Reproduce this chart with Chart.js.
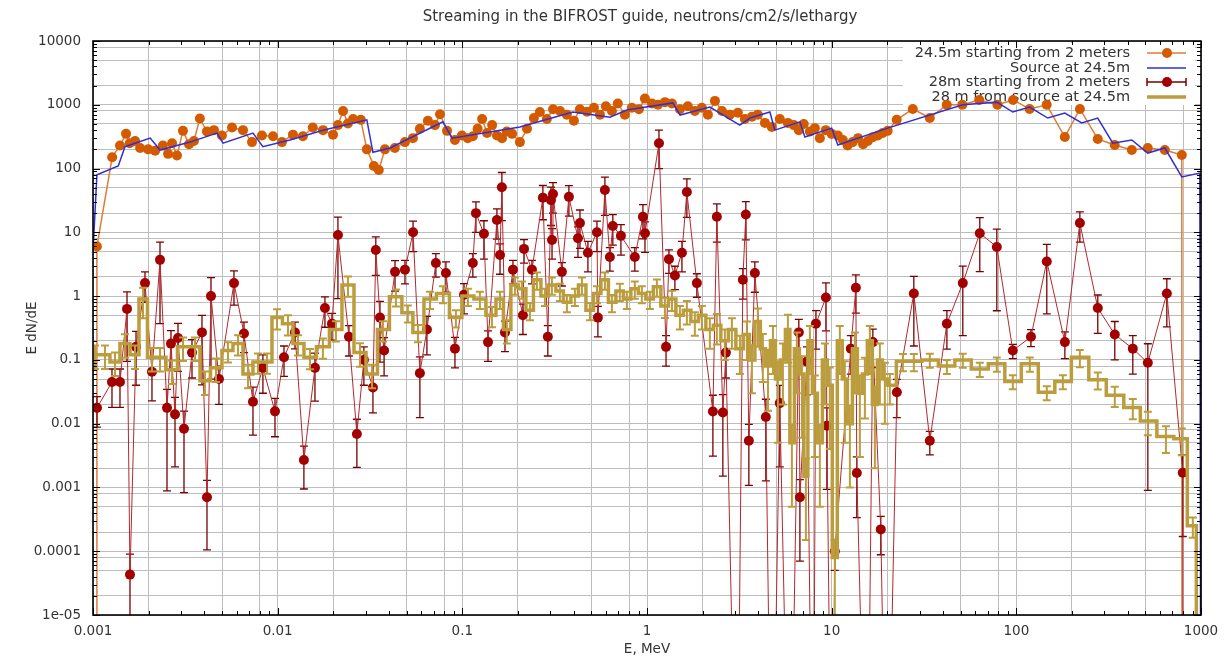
<!DOCTYPE html>
<html><head><meta charset="utf-8">
<script src="https://cdn.jsdelivr.net/npm/chart.js@4.4.0/dist/chart.umd.min.js"></script>
<style>html,body{margin:0;padding:0;background:#fff}#wrap{width:1226px;height:659px}</style>
</head><body><div id="wrap"><canvas id="c" width="1226" height="659"></canvas></div>
<script>
const titleText = 'Streaming in the BIFROST guide, neutrons/cm2/s/lethargy';
const xAxisTitle = 'E, MeV';
const yAxisTitle = 'E dN/dE';
const seriesNames = ['24.5m starting from 2 meters', 'Source at 24.5m', '28m starting from 2 meters', '28 m from source at 24.5m'];
const xTickValues = [0.001, 0.01, 0.1, 1, 10, 100, 1000];
const xTickLabels = ['0.001', '0.01', '0.1', '1', '10', '100', '1000'];
const yTickValues = [1e-5, 1e-4, 1e-3, 1e-2, 0.1, 1, 10, 100, 1000, 10000];
const yTickLabels = ['1e-05', '0.0001', '0.001', '0.01', '0.1', '1', '10', '100', '1000', '10000'];
const gridMantissas = [1, 2, 5, 8];

// Series 1: 24.5m starting from 2 meters
const orangeE = [0.00105, 0.00105, 0.00127, 0.0014, 0.00151, 0.00158, 0.00169, 0.0018, 0.00199, 0.00217,
  0.00239, 0.00255, 0.00268, 0.00285, 0.00307, 0.00331, 0.00352, 0.00379, 0.00414, 0.00452,
  0.00499, 0.00566, 0.00649, 0.00726, 0.00822, 0.00944, 0.01055, 0.0121, 0.0137, 0.0155,
  0.0176, 0.01995, 0.0212, 0.0226, 0.024, 0.0256, 0.0282, 0.0304, 0.0332, 0.0353,
  0.0381, 0.0431, 0.0489, 0.054, 0.0589, 0.0651, 0.0711, 0.0757, 0.0826, 0.0912,
  0.0995, 0.107, 0.114, 0.121, 0.128, 0.136, 0.145, 0.154, 0.164, 0.174,
  0.186, 0.205, 0.224, 0.244, 0.263, 0.287, 0.31, 0.338, 0.368, 0.402,
  0.433, 0.473, 0.516, 0.556, 0.599, 0.646, 0.695, 0.759, 0.828, 0.904,
  0.974, 1.064, 1.146, 1.25, 1.365, 1.507, 1.664, 1.816, 1.982, 2.137,
  2.333, 2.546, 2.812, 3.105, 3.39, 3.7, 3.98, 4.35, 4.74, 5.24,
  5.79, 6.24, 6.64, 7.06, 7.62, 8.11, 8.63, 9.29, 10.0, 10.8,
  11.5, 12.2, 13.0, 13.9, 14.8, 15.7, 16.7, 17.8, 18.9, 20.1,
  22.5, 27.5, 34, 42, 51, 63, 79, 96, 118, 146,
  183, 221, 276, 341, 422, 515, 637, 787, 790];
const orangeFlux = [1e-9, 6, 150, 230, 350, 250, 270, 210, 200, 190,
  230, 170, 250, 160, 390, 240, 270, 610, 380, 400,
  330, 440, 400, 260, 330, 320, 260, 340, 320, 440,
  400, 340, 480, 800, 510, 600, 580, 200, 110, 95,
  200, 210, 260, 300, 420, 560, 480, 710, 390, 280,
  330, 300, 320, 420, 600, 360, 480, 330, 300, 380,
  350, 260, 420, 620, 770, 600, 850, 800, 700, 560,
  850, 780, 900, 700, 950, 800, 1050, 700, 900, 850,
  1250, 1050, 1000, 1100, 1050, 850, 950, 800, 900, 700,
  1150, 800, 700, 750, 600, 650, 700, 520, 450, 600,
  520, 480, 400, 500, 380, 430, 300, 400, 350, 330,
  280, 230, 260, 300, 240, 270, 310, 330, 360, 390,
  580, 860, 620, 1000, 1000, 1190, 1000, 1190, 860, 1000,
  312, 860, 291, 234, 195, 210, 195, 163, 1e-9];

// Series 2: Source at 24.5m
const blueE = [0.001, 0.00105, 0.00137, 0.00149, 0.00204, 0.00231, 0.00335, 0.00469, 0.00506, 0.00735,
  0.00832, 0.01166, 0.0176, 0.0304, 0.0328, 0.0406, 0.0785, 0.0879, 0.205, 0.397,
  0.63, 0.778, 1.38, 1.51, 2.19, 3.18, 3.61, 4.63, 4.92, 6.73,
  7.16, 10.0, 10.8, 20.1, 51.3, 78.4, 95.7, 118, 148, 183,
  226, 276, 333, 422, 515, 637, 787, 985, 1000];
const blueFlux = [5, 80, 110, 220, 300, 195, 260, 360, 250, 360,
  220, 280, 400, 580, 180, 210, 540, 300, 450, 770,
  640, 830, 1070, 690, 920, 480, 620, 770, 400, 540,
  312, 430, 234, 430, 1000, 1100, 770, 920, 620, 740,
  520, 620, 250, 280, 175, 210, 74, 85, 1e-9];

// Series 3: 28m starting from 2 meters (with relative errors)
const redE = [0.001051, 0.001267, 0.0014, 0.001528, 0.001586, 0.00171, 0.001912, 0.002086, 0.002306, 0.002516,
  0.002644, 0.00278, 0.002886, 0.00311, 0.003436, 0.003892, 0.004142, 0.004354, 0.00481, 0.0058,
  0.00657, 0.00735, 0.00832, 0.00967, 0.01082, 0.0124, 0.01387, 0.01592, 0.01803, 0.01968,
  0.0212, 0.02432, 0.02685, 0.0293, 0.0328, 0.034, 0.0358, 0.0377, 0.0432, 0.0489,
  0.0541, 0.0589, 0.0643, 0.0719, 0.0815, 0.0912, 0.1021, 0.114, 0.1185, 0.1309,
  0.1377, 0.1539, 0.16, 0.1637, 0.1702, 0.188, 0.2128, 0.2158, 0.2382, 0.273,
  0.2904, 0.302, 0.306, 0.3097, 0.346, 0.3776, 0.4227, 0.4335, 0.4786, 0.5358,
  0.542, 0.5916, 0.6295, 0.6531, 0.7224, 0.859, 0.9506, 0.975, 1.161, 1.268,
  1.315, 1.416, 1.546, 1.644, 1.862, 2.274, 2.389, 2.575, 2.674, 3.069,
  3.304, 3.429, 3.561, 3.837, 4.401, 4.745, 5.236, 5.938, 6.64, 6.73,
  7.34, 7.925, 8.22, 9.31, 9.42, 10.02, 10.4, 12.7, 13.52, 13.68,
  15.52, 16.71, 18.45, 19.9, 22.54, 27.86, 34.0, 42.07, 51.3, 63.4,
  78.4, 95.7, 120, 146.2, 183.2, 220.8, 276.1, 341.3, 427.3, 515.3,
  653.1, 796.4, 800];
const redFlux = [0.0177, 0.045, 0.045, 0.63, 4.3e-5, 0.16, 1.6, 0.065, 3.7, 0.0177,
  0.18, 0.014, 0.22, 0.0083, 0.13, 0.27, 0.0007, 1.0, 0.05, 1.6,
  0.26, 0.022, 0.075, 0.0156, 0.11, 0.27, 0.0027, 0.075, 0.65, 0.37,
  9.1, 0.23, 0.0069, 0.10, 0.037, 5.3, 0.46, 0.14, 2.4, 2.6,
  10, 0.062, 0.3, 3.3, 2.3, 0.15, 1.05, 3.3, 20, 9.5,
  0.19, 15.6, 4.4, 51, 0.27, 2.6, 0.5, 5.5, 2.6, 35,
  0.23, 32, 7.6, 40, 2.4, 36, 8.1, 14, 4.8, 10,
  0.46, 46, 4.1, 12.6, 8.8, 4.1, 17.5, 9.7, 250, 0.16,
  3.8, 2.1, 4.8, 43, 1.6, 0.0155, 17.5, 0.015, 0.13, 1e-9,
  1.8, 19, 0.0054, 2.3, 0.0127, 1e-9, 0.021, 1e-9, 0.27, 0.0007,
  0.094, 1e-9, 0.37, 0.95, 0.0093, 1e-9, 0.0001, 0.15, 1.35, 0.00168,
  1e-9, 0.19, 0.00022, 1e-9, 0.031, 1.1, 0.0054, 0.37, 1.6, 9.7,
  5.9, 0.14, 0.23, 3.5, 0.19, 14, 0.65, 0.25, 0.15, 0.09,
  1.1, 0.0017, 1e-9];
const redRelErr = [0.5, 0.6, 0.6, 0.85, 1.1, 0.75, 0.5, 0.65, 0.9, 0.95,
  0.6, 0.85, 0.7, 0.9, 0.6, 0.85, 0.85, 0.95, 0.6, 0.55,
  0.5, 0.7, 0.6, 0.6, 0.5, 0.45, 0.65, 0.7, 0.5, 0.45,
  0.9, 0.5, 0.7, 0.6, 0.6, 0.6, 0.8, 0.6, 0.5, 0.4,
  0.5, 0.8, 0.6, 0.4, 0.5, 0.5, 0.5, 0.4, 0.5, 0.6,
  0.5, 0.5, 0.5, 0.7, 0.5, 0.4, 0.5, 0.4, 0.4, 0.55,
  0.5, 0.6, 0.5, 0.5, 0.4, 0.5, 0.5, 0.6, 0.5, 0.5,
  0.5, 0.6, 0.4, 0.5, 0.5, 0.4, 0.55, 0.5, 0.6, 0.5,
  0.4, 0.4, 0.5, 0.6, 0.4, 0.8, 0.6, 0.9, 0.6, 0,
  0.5, 0.6, 0.8, 0.5, 0.9, 0, 0.9, 0, 0.6, 0.9,
  0.7, 0, 0.6, 0.7, 0.9, 0, 0.5, 0.6, 0.6, 0.8,
  0, 0.6, 0.6, 0, 0.6, 0.85, 0.4, 0.6, 0.85, 0.75,
  0.9, 0.25, 0.3, 0.85, 0.45, 0.5, 0.6, 0.6, 0.6, 0.99,
  0.7, 0.9, 0];

// Series 4: 28 m from source at 24.5m (histogram with relative errors)
const oliveE = [0.001025, 0.001161, 0.001315, 0.00149, 0.001688, 0.001865, 0.002086, 0.002306, 0.002677, 0.003072,
  0.003567, 0.00404, 0.004634, 0.00538, 0.006097, 0.006906, 0.007822, 0.008753, 0.009913, 0.01137,
  0.01288, 0.01496, 0.01758, 0.02068, 0.02403, 0.02791, 0.03243, 0.03717, 0.04369, 0.0507,
  0.05751, 0.06679, 0.07852, 0.09232, 0.1072, 0.1245, 0.1446, 0.16, 0.1742, 0.1927,
  0.2103, 0.2323, 0.2535, 0.28, 0.3055, 0.3375, 0.3683, 0.4069, 0.4443, 0.4909,
  0.5358, 0.5916, 0.6457, 0.7129, 0.778, 0.859, 0.9376, 1.036, 1.131, 1.25,
  1.365, 1.507, 1.644, 1.816, 1.982, 2.19, 2.389, 2.64, 2.882, 3.184,
  3.475, 3.7, 3.984, 4.24, 4.52, 4.81, 5.117, 5.445, 5.794, 6.09,
  6.48, 6.9, 7.25, 7.62, 8.11, 8.63, 9.19, 9.77, 10.4, 11.07,
  11.78, 12.55, 13.36, 14.21, 15.13, 16.1, 17.14, 18.24, 19.41, 20.65,
  24.3, 27.86, 34.0, 42.07, 51.3, 63.4, 78.4, 95.7, 118.3, 146.2,
  178.6, 220.8, 276.1, 341.3, 427.3, 515.3, 645.6, 787, 903, 986];
const oliveFlux = [0.12, 0.12, 0.093, 0.18, 0.12, 0.9, 0.11, 0.11, 0.07, 0.16,
  0.16, 0.047, 0.075, 0.14, 0.18, 0.06, 0.093, 0.093, 0.46, 0.37,
  0.18, 0.11, 0.16, 0.3, 1.5, 0.13, 0.06, 0.3, 0.98, 0.55,
  0.27, 0.9, 1.1, 0.46, 1.0, 0.9, 0.5, 0.9, 0.3, 1.5,
  1.3, 0.6, 1.8, 1.0, 1.5, 1.2, 0.8, 1.0, 1.5, 0.6,
  1.1, 1.8, 0.8, 1.2, 0.9, 1.3, 1.1, 0.9, 1.4, 0.7,
  0.9, 0.5, 0.6, 0.4, 0.5, 0.3, 0.35, 0.2, 0.3, 0.15,
  0.25, 0.1, 0.4, 0.15, 0.08, 0.2, 0.05, 0.1, 0.3, 0.005,
  0.15, 0.06, 0.0015, 0.2, 0.03, 0.005, 0.1, 0.04, 0.00008, 0.2,
  0.05, 0.01, 0.15, 0.03, 0.06, 0.2, 0.02, 0.1, 0.05, 0.04,
  0.095, 0.095, 0.1, 0.08, 0.1, 0.072, 0.087, 0.046, 0.087, 0.031,
  0.046, 0.11, 0.049, 0.028, 0.018, 0.011, 0.0063, 0.0058, 0.00025, 1e-9];
const oliveRelErr = [0.4, 0.4, 0.4, 0.4, 0.4, 0.5, 0.4, 0.4, 0.4, 0.4,
  0.4, 0.4, 0.4, 0.35, 0.35, 0.4, 0.35, 0.35, 0.35, 0.35,
  0.35, 0.35, 0.35, 0.35, 0.35, 0.4, 0.4, 0.35, 0.3, 0.3,
  0.3, 0.3, 0.3, 0.3, 0.3, 0.3, 0.35, 0.3, 0.4, 0.3,
  0.3, 0.3, 0.3, 0.3, 0.3, 0.3, 0.3, 0.3, 0.3, 0.3,
  0.3, 0.3, 0.3, 0.3, 0.3, 0.3, 0.3, 0.3, 0.3, 0.35,
  0.35, 0.4, 0.4, 0.4, 0.4, 0.5, 0.5, 0.5, 0.5, 0.6,
  0.6, 0.7, 0.6, 0.7, 0.8, 0.7, 0.9, 0.8, 0.7, 0.9,
  0.8, 0.9, 0.9, 0.7, 0.9, 0.9, 0.8, 0.9, 0.9, 0.7,
  0.9, 0.9, 0.8, 0.9, 0.8, 0.7, 0.9, 0.8, 0.8, 0.5,
  0.3, 0.3, 0.25, 0.25, 0.25, 0.25, 0.25, 0.25, 0.25, 0.25,
  0.25, 0.3, 0.3, 0.35, 0.35, 0.4, 0.45, 0.45, 0.35, 0];

const FONT = 'DejaVu Sans';
const TXT = '#333333';
const colOrangeLine = '#e07b35', colOrangePt = '#d45a00';
const colBlue = '#2f2fd8';
const colRedLine = '#b3282d', colRedPt = '#a30000', colRedErr = '#780000';
const colOlive = '#bb9d3e';

function pairs(xs, ys) { return xs.map((x, i) => ({ x: x, y: ys[i] })); }
function buildGrid(lo, hi) {
  const out = [];
  for (let n = lo; n < hi; n++) for (const m of gridMantissas) out.push(+(m * Math.pow(10, n)).toPrecision(6));
  out.push(Math.pow(10, hi));
  return out;
}
const gridX = buildGrid(-3, 3);
const gridY = buildGrid(-5, 4);
function labelFor(v, vals, labs) {
  for (let i = 0; i < vals.length; i++) if (Math.abs(Math.log10(v) - Math.log10(vals[i])) < 1e-6) return labs[i];
  return '';
}
const radiusFn = (ctx) => { const r = ctx.raw; return (r && r.y > 1e-8) ? 5 : 0; };

const errorBars = {
  id: 'errorBars',
  beforeDatasetDraw(chart, args) {
    const ds = chart.data.datasets[args.index];
    if (!ds.errRel) return;
    const ctx = chart.ctx, ys = chart.scales.y, ca = chart.chartArea;
    ctx.save();
    ctx.beginPath(); ctx.rect(ca.left, ca.top, ca.right - ca.left, ca.bottom - ca.top); ctx.clip();
    ctx.strokeStyle = ds.errColor; ctx.lineWidth = ds.errWidth;
    const cap = ds.capHalf;
    args.meta.data.forEach((pt, i) => {
      const v = ds.data[i].y, r = ds.errRel[i];
      if (!(v > 1e-8) || !r) return;
      const hi = v * (1 + r), lo = v * (1 - r);
      const yHi = ys.getPixelForValue(hi);
      const yLo = lo > 0 ? ys.getPixelForValue(lo) : ca.bottom + 5;
      ctx.beginPath();
      ctx.moveTo(pt.x, yHi); ctx.lineTo(pt.x, yLo);
      ctx.moveTo(pt.x - cap, yHi); ctx.lineTo(pt.x + cap, yHi);
      if (lo > 0) { ctx.moveTo(pt.x - cap, yLo); ctx.lineTo(pt.x + cap, yLo); }
      ctx.stroke();
    });
    ctx.restore();
  }
};

const decor = {
  id: 'decor',
  beforeDatasetsDraw(chart) {
    const ctx = chart.ctx;
    ctx.save();
    // title
    ctx.fillStyle = TXT; ctx.font = '15px "' + FONT + '"';
    ctx.textAlign = 'center'; ctx.textBaseline = 'middle';
    ctx.fillText(titleText, 640, 17);
    // legend
    ctx.fillStyle = '#ffffff'; ctx.fillRect(903, 43, 292, 62);
    ctx.font = '14.5px "' + FONT + '"';
    ctx.fillStyle = TXT; ctx.textAlign = 'right';
    const rows = [53, 68, 82, 97];
    seriesNames.forEach((s, i) => ctx.fillText(s, 1130, rows[i]));
    const x0 = 1147, x1 = 1186, xm = 1167;
    ctx.lineCap = 'butt';
    ctx.strokeStyle = colOrangeLine; ctx.lineWidth = 1.5;
    ctx.beginPath(); ctx.moveTo(x0, rows[0]); ctx.lineTo(x1, rows[0]); ctx.stroke();
    ctx.fillStyle = colOrangePt; ctx.beginPath(); ctx.arc(xm, rows[0], 5, 0, Math.PI * 2); ctx.fill();
    ctx.strokeStyle = colBlue; ctx.lineWidth = 1.5;
    ctx.beginPath(); ctx.moveTo(x0, rows[1]); ctx.lineTo(x1, rows[1]); ctx.stroke();
    ctx.strokeStyle = colRedErr; ctx.lineWidth = 1.5;
    ctx.beginPath(); ctx.moveTo(x0, rows[2]); ctx.lineTo(x1, rows[2]);
    ctx.moveTo(x0, rows[2] - 4); ctx.lineTo(x0, rows[2] + 4);
    ctx.moveTo(x1, rows[2] - 4); ctx.lineTo(x1, rows[2] + 4); ctx.stroke();
    ctx.fillStyle = colRedPt; ctx.beginPath(); ctx.arc(xm, rows[2], 5, 0, Math.PI * 2); ctx.fill();
    ctx.strokeStyle = colOlive; ctx.lineWidth = 3.5;
    ctx.beginPath(); ctx.moveTo(x0, rows[3]); ctx.lineTo(x1, rows[3]); ctx.stroke();
    ctx.restore();
  },
  afterDatasetsDraw(chart) {
    const ctx = chart.ctx, ca = chart.chartArea, xs = chart.scales.x, ys = chart.scales.y;
    ctx.save();
    ctx.strokeStyle = '#000'; ctx.lineWidth = 1;
    ctx.beginPath();
    for (let n = -3; n <= 3; n++) for (let m = 1; m <= 9; m++) {
      const v = m * Math.pow(10, n); if (v > 1000.0001) break;
      const px = Math.round(xs.getPixelForValue(v)) + 0.5; const L = m === 1 ? 7 : 4;
      ctx.moveTo(px, ca.bottom); ctx.lineTo(px, ca.bottom - L);
      ctx.moveTo(px, ca.top); ctx.lineTo(px, ca.top + L);
    }
    for (let n = -5; n <= 4; n++) for (let m = 1; m <= 9; m++) {
      const v = m * Math.pow(10, n); if (v > 10000.0001) break;
      const py = Math.round(ys.getPixelForValue(v)) + 0.5; const L = m === 1 ? 7 : 4;
      ctx.moveTo(ca.left, py); ctx.lineTo(ca.left + L, py);
      ctx.moveTo(ca.right, py); ctx.lineTo(ca.right - L, py);
    }
    ctx.stroke();
    ctx.lineWidth = 1.6;
    ctx.strokeRect(ca.left, ca.top, ca.right - ca.left, ca.bottom - ca.top);
    ctx.restore();
  }
};

const chart = new Chart(document.getElementById('c'), {
  type: 'line',
  data: {
    datasets: [
      { label: seriesNames[0], data: pairs(orangeE, orangeFlux), borderColor: colOrangeLine, borderWidth: 1.5,
        pointBackgroundColor: colOrangePt, pointBorderColor: colOrangePt, pointBorderWidth: 0, pointRadius: radiusFn, order: 4 },
      { label: seriesNames[1], data: pairs(blueE, blueFlux), borderColor: colBlue, borderWidth: 1.5, pointRadius: 0, order: 3 },
      { label: seriesNames[2], data: pairs(redE, redFlux), borderColor: colRedLine, borderWidth: 1,
        pointBackgroundColor: colRedPt, pointBorderColor: colRedPt, pointBorderWidth: 0, pointRadius: radiusFn, order: 2,
        errRel: redRelErr, errColor: colRedErr, errWidth: 1.3, capHalf: 4 },
      { label: seriesNames[3], data: pairs(oliveE, oliveFlux), borderColor: colOlive, borderWidth: 3.5, stepped: 'middle',
        pointRadius: 0, order: 1, errRel: oliveRelErr, errColor: colOlive, errWidth: 2, capHalf: 4 }
    ]
  },
  options: {
    responsive: false, animation: false, events: [],
    devicePixelRatio: 1,
    elements: { line: { tension: 0 } },
    layout: { padding: { top: 41, right: 25, left: 0, bottom: 0 } },
    plugins: { legend: { display: false }, tooltip: { enabled: false }, title: { display: false } },
    scales: {
      x: {
        type: 'logarithmic', min: 0.001, max: 1000, position: 'bottom',
        afterBuildTicks: (s) => { s.ticks = gridX.map(v => ({ value: v })); },
        afterFit: (s) => { s.height = 44; s.paddingLeft = 0; s.paddingRight = 0; },
        grid: { color: '#bdbdbd', lineWidth: 1, drawTicks: false },
        border: { display: false },
        ticks: { autoSkip: false, maxRotation: 0, padding: 8, color: TXT, font: { family: FONT, size: 13.5 },
          callback: (v) => labelFor(v, xTickValues, xTickLabels) },
        title: { display: true, text: xAxisTitle, color: TXT, font: { family: FONT, size: 13.5 }, padding: { top: 0, bottom: 1 } }
      },
      y: {
        type: 'logarithmic', min: 1e-5, max: 10000, position: 'left',
        afterBuildTicks: (s) => { s.ticks = gridY.map(v => ({ value: v })); },
        afterFit: (s) => { s.width = 93; s.paddingTop = 0; s.paddingBottom = 0; },
        grid: { color: '#bdbdbd', lineWidth: 1, drawTicks: false },
        border: { display: false },
        ticks: { autoSkip: false, padding: 12, color: TXT, font: { family: FONT, size: 13.5 },
          callback: (v) => labelFor(v, yTickValues, yTickLabels) },
        title: { display: true, text: yAxisTitle, color: TXT, font: { family: FONT, size: 13.5 }, padding: { top: 24, bottom: 0 } }
      }
    }
  },
  plugins: [errorBars, decor]
});
</script></body></html>
